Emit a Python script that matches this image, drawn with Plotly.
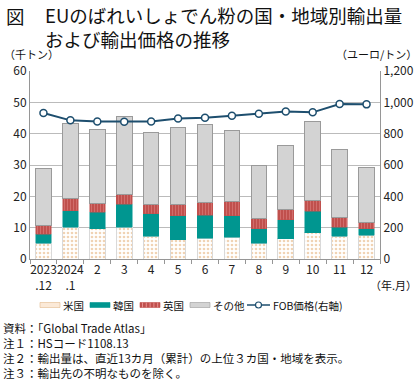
import plotly.graph_objects as go

months = ["2023<br>.12", "2024<br>.1", "2", "3", "4", "5", "6", "7", "8", "9", "10", "11", "12"]
us = [5.1, 10.1, 9.6, 10.2, 7.2, 6.2, 6.7, 6.9, 5.1, 6.4, 8.3, 7.2, 7.6]
korea = [2.8, 5.3, 5.3, 7.2, 7.2, 7.6, 7.2, 6.9, 4.5, 6.2, 6.9, 2.9, 2.1]
uk = [2.7, 3.8, 2.8, 3.1, 2.9, 3.5, 4.0, 4.4, 3.4, 3.1, 3.4, 3.1, 2.0]
others = [18.2, 24.2, 23.7, 24.9, 23.1, 24.8, 24.9, 22.7, 16.8, 20.4, 25.3, 21.9, 17.5]
fob = [932, 885, 878, 876, 878, 897, 902, 915, 927, 942, 936, 989, 987]
series_names = ["米国", "韓国", "英国", "その他", "FOB価格(右軸)"]

FONT = "Noto Sans CJK JP"
TOP, BOT, H, LEFT, RIGHT = 71, 259, 381, 30, 380

def py(p):
    return (BOT - p) / (BOT - TOP)

def px(p):
    return (p - LEFT) / (RIGHT - LEFT)

C_US_DOT, C_KR, C_UK, C_OT, C_LINE = "#E2A86A", "#009690", "#C0504D", "#D3D3D3", "#1D4E6E"

fig = go.Figure()
line_col = "rgba(150,150,150,1)"
fig.add_trace(go.Bar(x=months, y=us, name=series_names[0],
                     marker=dict(color="#FFFFFF", line=dict(color="#d9d9d9", width=1),
                                 pattern=dict(shape=".", fgcolor=C_US_DOT, bgcolor="#FFFFFF", size=4, solidity=0.35))))
fig.add_trace(go.Bar(x=months, y=korea, name=series_names[1],
                     marker=dict(color=C_KR, line=dict(color=C_KR, width=0.5))))
fig.add_trace(go.Bar(x=months, y=uk, name=series_names[2],
                     marker=dict(color=C_UK, line=dict(color=C_UK, width=0.5),
                                 pattern=dict(shape="|", fgcolor="#E89090", bgcolor=C_UK, size=3, solidity=0.3))))
fig.add_trace(go.Bar(x=months, y=others, name=series_names[3],
                     marker=dict(color=C_OT, line=dict(color="#9a9a9a", width=1))))
fig.add_trace(go.Scatter(x=months, y=fob, name=series_names[4], yaxis="y2", mode="lines+markers",
                         line=dict(color=C_LINE, width=2),
                         marker=dict(symbol="circle", size=7, color="#FFFFFF",
                                     line=dict(color=C_LINE, width=1.5))))

fig.update_layout(
    width=420, height=381,
    margin=dict(l=LEFT, r=420 - RIGHT, t=TOP, b=H - BOT, pad=0),
    barmode="stack", bargap=0.42,
    plot_bgcolor="white", paper_bgcolor="white",
    font=dict(family=FONT, size=12, color="#222222"),
    showlegend=False,
    xaxis=dict(type="category", range=[-0.5, 12.5], showline=True, linecolor=line_col,
               ticks="outside", tickson="boundaries", ticklen=4, tickcolor=line_col,
               tickfont=dict(size=12), tickangle=0, showgrid=False, automargin=False),
    yaxis=dict(range=[0, 60], dtick=10, showline=True, linecolor=line_col,
               gridcolor="#BBBBBB", gridwidth=1, zeroline=False, ticks="",
               tickfont=dict(size=12), automargin=False),
    yaxis2=dict(range=[0, 1200], dtick=200, overlaying="y", side="right", showline=True,
                linecolor=line_col, showgrid=False, zeroline=False, tickformat=",",
                tickfont=dict(size=12), automargin=False),
)

anns = [
    dict(text="図", x=4, y=16, size=18.5, xanchor="left"),
    dict(text="EUのばれいしょでん粉の国・地域別輸出量<br>および輸出価格の推移", x=43, y=27, size=18.5, xanchor="left"),
    dict(text="（千トン）", x=2, y=54, size=11, xanchor="left"),
    dict(text="（ユーロ/トン）", x=419, y=54, size=11, xanchor="right"),
    dict(text="（年.月）", x=419, y=285, size=11, xanchor="right"),
    dict(text="資料：「Global Trade Atlas」", x=1, y=327.5, size=11.5, xanchor="left"),
    dict(text="注１：HSコード1108.13", x=1, y=342.8, size=11.5, xanchor="left"),
    dict(text="注２：輸出量は、直近13カ月（累計）の上位３カ国・地域を表示。", x=1, y=358.1, size=11.5, xanchor="left"),
    dict(text="注３：輸出先の不明なものを除く。", x=1, y=373.4, size=11.5, xanchor="left"),
]

# manual legend (swatch left edge px, label)
LY = 305
leg = [(40, series_names[0]), (90, series_names[1]), (140, series_names[2]),
       (190, series_names[3]), (247, series_names[4])]
swatch_style = [
    dict(fill="#FBE9D7", line="#E2B88C"),
    dict(fill=C_KR, line=C_KR),
    dict(fill=C_UK, line=C_UK),
    dict(fill=C_OT, line="#9a9a9a"),
]
for i, (x0, label) in enumerate(leg):
    if i < 4:
        st = swatch_style[i]
        fig.add_shape(type="rect", xref="paper", yref="paper",
                      x0=px(x0), x1=px(x0 + 20), y0=py(LY + 2.5), y1=py(LY - 2.5),
                      fillcolor=st["fill"], line=dict(color=st["line"], width=0.6))
        if i == 2:
            for k in range(5):
                xx = x0 + 2.5 + k * 3.8
                fig.add_shape(type="line", xref="paper", yref="paper",
                              x0=px(xx), x1=px(xx), y0=py(LY + 2.5), y1=py(LY - 2.5),
                              line=dict(color="#E89090", width=1))
        tx = x0 + 21
    else:
        fig.add_shape(type="line", xref="paper", yref="paper",
                      x0=px(x0), x1=px(x0 + 23), y0=py(LY), y1=py(LY),
                      line=dict(color=C_LINE, width=1.5))
        fig.add_shape(type="circle", xref="paper", yref="paper",
                      x0=px(x0 + 8.5), x1=px(x0 + 14.5), y0=py(LY + 3), y1=py(LY - 3),
                      fillcolor="white", line=dict(color=C_LINE, width=1.2))
        tx = x0 + 24
    anns.append(dict(text=label, x=tx, y=LY, size=10.5, xanchor="left"))

for a in anns:
    fig.add_annotation(text=a["text"], xref="paper", yref="paper",
                       x=px(a["x"]), y=py(a["y"]), xanchor=a["xanchor"], yanchor="middle",
                       align="left", showarrow=False,
                       font=dict(size=a["size"], family=FONT, color="#111111"))

fig.write_html("out.html", config={"displayModeBar": False},
               post_script="document.body.style.margin='0';")
